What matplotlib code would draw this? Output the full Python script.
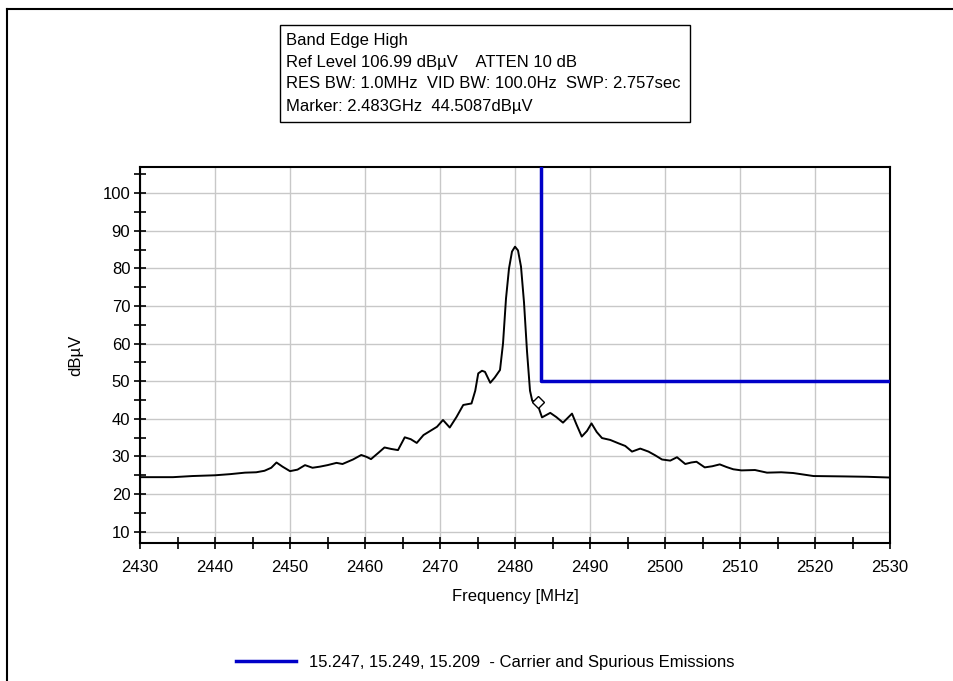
import numpy as np
import matplotlib
matplotlib.use("Agg")
import matplotlib.pyplot as plt
from matplotlib.lines import Line2D
from matplotlib.patches import Rectangle
from matplotlib.ticker import MultipleLocator

plt.rcParams['font.family'] = ['Liberation Sans', 'DejaVu Sans']

# trace
freq = [2430, 2434.4, 2437, 2440, 2442, 2444, 2445.5, 2446.6, 2447.5, 2448.2, 2449, 2450,
        2451, 2452, 2453, 2454, 2455, 2456.2, 2457, 2458.4, 2459.5, 2460.2, 2460.8,
        2461.8, 2462.6, 2463.5, 2464.4, 2465.3, 2466.1, 2466.9, 2467.8, 2468.7, 2469.6,
        2470.4, 2471.3, 2472.2, 2473.1, 2474.2, 2474.7, 2475.1, 2475.6, 2476, 2476.7,
        2477.3, 2478, 2478.4, 2478.8, 2479.2, 2479.6, 2480, 2480.4, 2480.8, 2481.2,
        2481.6, 2482, 2482.3, 2482.9, 2483.6, 2484.7, 2485.5, 2486.4, 2487, 2487.6,
        2488.2, 2488.9, 2489.6, 2490.2, 2490.9, 2491.6, 2492.7, 2493.8, 2494.7, 2495.6,
        2496.7, 2497.8, 2498.7, 2499.6, 2500.7, 2501.6, 2502.7, 2503.5, 2504.2, 2505.3,
        2506.3, 2507.3, 2508.2, 2509.1, 2510.2, 2512, 2513.6, 2515.5, 2517.1, 2519.8,
        2523.8, 2527, 2530]
level = [24.5, 24.5, 24.8, 25.0, 25.3, 25.7, 25.8, 26.2, 27.0, 28.4, 27.3, 26.1,
         26.5, 27.7, 27.0, 27.3, 27.7, 28.3, 28.0, 29.2, 30.4, 29.9, 29.3,
         31.0, 32.4, 32.0, 31.7, 35.1, 34.6, 33.6, 35.7, 36.8, 37.9,
         39.7, 37.7, 40.5, 43.7, 44.1, 47.5, 52.1, 52.8, 52.5, 49.6,
         51.0, 53.0, 60.0, 72.0, 80.0, 84.5, 85.8, 84.8, 80.5, 71.0,
         58.0, 47.5, 44.8, 44.5, 40.4, 41.6, 40.5, 39.0, 40.2, 41.4,
         38.5, 35.3, 36.8, 38.8, 36.5, 34.9, 34.4, 33.5, 32.8, 31.3,
         32.1, 31.3, 30.3, 29.2, 28.9, 29.8, 28.0, 28.4, 28.6, 27.1,
         27.4, 27.9, 27.2, 26.6, 26.3, 26.4, 25.7, 25.8, 25.6, 24.8,
         24.7, 24.6, 24.4]

limit_freq = [2483.5, 2483.5, 2530]
limit_level = [106.99, 50, 50]

marker_freq = 2483
marker_level = 44.5087

header = ["Band Edge High",
          "Ref Level 106.99 dB\u00b5V    ATTEN 10 dB",
          "RES BW: 1.0MHz  VID BW: 100.0Hz  SWP: 2.757sec",
          "Marker: 2.483GHz  44.5087dB\u00b5V"]
legend_label = "15.247, 15.249, 15.209  - Carrier and Spurious Emissions"

fs = 12
fig = plt.figure(figsize=(9.54, 6.81), dpi=100)
W, H = 954, 681
ax = fig.add_axes([140 / W, 1 - 543 / H, 750 / W, 376 / H])

ax.plot(freq, level, color='black', lw=1.4, zorder=3)
ax.plot(limit_freq, limit_level, color='#0000c8', lw=2.5, zorder=4,
        label=legend_label)
ax.plot([marker_freq], [marker_level], marker='D', ms=6, mfc='white',
        mec='black', mew=1, zorder=5)

ax.set_xlim(2430, 2530)
ax.set_ylim(6.99, 106.99)
ax.xaxis.set_major_locator(MultipleLocator(10))
ax.xaxis.set_minor_locator(MultipleLocator(5))
ax.yaxis.set_major_locator(MultipleLocator(10))
ax.yaxis.set_minor_locator(MultipleLocator(5))
ax.tick_params(which='both', direction='inout', length=8, width=1.2,
               labelsize=fs, color='black')
ax.tick_params(axis='x', pad=8)
ax.tick_params(axis='y', pad=3)
ax.grid(True, which='major', color='#c8c8c8', lw=1)
for s in ax.spines.values():
    s.set_linewidth(1.5)

ax.set_xlabel("Frequency [MHz]", fontsize=fs, labelpad=10)
ax.set_ylabel("dB\u00b5V", fontsize=fs, labelpad=14)

# header box
fig.add_artist(Rectangle((280 / W, 1 - 122 / H), 410 / W, 97 / H,
                         transform=fig.transFigure, fill=False,
                         edgecolor='black', lw=1))
for i, line in enumerate(header):
    fig.text(286 / W, 1 - (40 + 22 * i) / H, line, fontsize=fs,
             ha='left', va='center')

# outer frame (left and top only)
fig.add_artist(Line2D([7 / W, 7 / W], [0, 1 - 9 / H], color='black', lw=1.5))
fig.add_artist(Line2D([7 / W, 1], [1 - 9 / H, 1 - 9 / H], color='black', lw=1.5))

fig.legend(loc='center', bbox_to_anchor=(485 / W, 1 - 662 / H), frameon=False,
           fontsize=fs, handlelength=3.6, handletextpad=0.8)

fig.savefig("out.png", dpi=100)
